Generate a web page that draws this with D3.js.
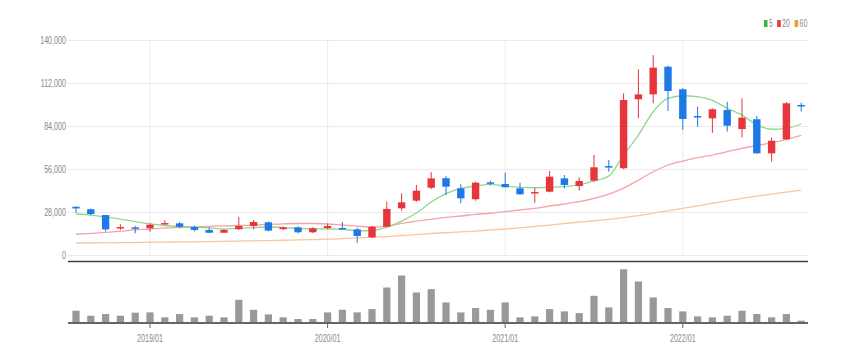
<!DOCTYPE html>
<html>
<head>
<meta charset="utf-8">
<script src="https://cdn.jsdelivr.net/npm/d3@7"></script>
<style>
  body { margin: 0; background: #fff; }
  text { font-family: "Liberation Sans", Arial, sans-serif; fill: #888; }
</style>
</head>
<body>
<div id="chart"></div>
<script>
const width = 850;
const height = 364;

// monthly candles, 2018/08 .. 2022/09
const months = d3.range(50).map(i => {
    const y = 2018 + Math.floor((7 + i) / 12);
    const m = (7 + i) % 12 + 1;
    return y + "/" + String(m).padStart(2, "0");
});

const open  = [31400,29800,26000,17400,18000,17400,20000,20600,18200,16300,14500,16800,18900,21300,16800,18000,14800,17600,17600,16700,11500,18400,30400,35400,43800,50000,43400,36300,47300,46200,43400,40400,41200,49900,44900,48400,57900,56500,101400,104600,122600,107900,90500,89000,94400,82000,88400,66200,75300,97700];
const high  = [31600,30200,26100,20000,18900,20600,22600,21500,19100,18000,16900,24900,22800,21700,18600,18600,18000,20600,21500,17800,19000,34700,40200,45600,53900,51400,46000,47800,48400,53600,47100,43800,54700,52100,50600,65100,61900,105300,120900,130200,123300,108600,96600,95500,99800,102000,90500,76600,99600,99200];
const low   = [27500,25900,15400,16300,14100,15200,19900,17400,15400,14100,14500,16300,16700,15400,16400,14100,14200,16700,16700,8000,11000,18000,28800,34700,42800,39000,33700,35300,45400,44000,39300,34000,40800,43400,41900,47700,54200,56000,89000,98800,93800,81400,83500,79500,80300,76600,66000,60800,74900,93300];
const close = [30300,26700,16700,18200,17200,19700,20800,18400,16300,14500,16300,18900,21500,15900,18000,14800,17400,18900,16800,12400,18400,30000,34300,41900,49900,44500,36900,47100,46400,44100,39500,41000,51000,45600,48200,57100,57100,100900,104600,122000,106800,88600,89900,94900,84200,89400,66200,74400,98800,96800];
const volume = [370000,220000,270000,220000,310000,320000,170000,270000,170000,220000,170000,700000,400000,260000,170000,120000,120000,320000,400000,320000,420000,1070000,1430000,920000,1020000,620000,320000,450000,400000,620000,170000,200000,420000,350000,300000,820000,470000,1620000,1250000,770000,450000,350000,200000,170000,220000,370000,270000,170000,270000,70000];

const ma5  = [26700,26000,24700,23400,21800,20200,19200,18600,18200,17600,16900,17300,17800,18400,17800,17400,16900,17100,16700,15800,15800,18200,22100,27300,34500,40000,43400,44900,46000,44900,44100,43800,44100,44500,45600,48200,51400,65100,78100,93300,102000,103700,103100,100700,95500,91200,84700,81900,82500,85300];
const ma20 = [13500,14100,14700,15500,16300,16900,17600,17900,18200,18600,18900,19200,19500,20000,20300,20500,20500,20200,19500,18800,18200,18800,20600,22100,23200,24500,25400,26500,27200,28200,29300,30400,31900,33200,34700,36900,39700,43600,48800,54200,58600,61200,63400,65100,67300,69500,71200,73100,75300,77900];
const ma60 = [7800,7800,7900,8000,8100,8300,8400,8500,8600,8700,8900,9100,9200,9400,9600,9800,10000,10300,10600,11100,11600,12000,12700,13300,14000,14500,15000,15600,16300,16900,17600,18600,19500,20500,21500,22300,23200,24300,25700,27200,28800,30400,32000,33700,35300,36900,38300,39700,41000,42300];

const priceTicks = [0, 28000, 56000, 84000, 112000, 140000];
const yearTicks = ["2019/01", "2020/01", "2021/01", "2022/01"];

const legendItems = [
    { label: "5",  color: "#2fb83a" },
    { label: "20", color: "#e8343b" },
    { label: "60", color: "#f39a2c" }
];

const upColor = "#e8343b";
const downColor = "#1e78e6";
const squash = 0.68;

const svg = d3.select("#chart")
    .append("svg")
    .attr("width", width)
    .attr("height", height);

const x = d3.scaleBand()
    .domain(months)
    .range([68.6, 808.6]);

const y = d3.scaleLinear()
    .domain([0, 140000])
    .range([255, 40]);

const yVol = d3.scaleLinear()
    .domain([0, 1700000])
    .range([323, 266.6]);

const cx = d => x(d) + x.bandwidth() / 2;

// horizontal gridlines + labels
const yAxis = svg.append("g")
    .attr("transform", "translate(68,0)")
    .call(d3.axisLeft(y).tickValues(priceTicks).tickFormat(d3.format(",")).tickSize(-740).tickPadding(3));
yAxis.select(".domain").remove();
yAxis.selectAll("line").attr("stroke", "#ebebeb");
yAxis.selectAll("text")
    .attr("font-size", 10.5)
    .attr("fill", "#888")
    .attr("transform", `scale(${squash},1)`);

// vertical gridlines
svg.append("g")
    .selectAll("line")
    .data(yearTicks)
    .enter().append("line")
    .attr("x1", d => cx(d)).attr("x2", d => cx(d))
    .attr("y1", 40).attr("y2", 255)
    .attr("stroke", "#ebebeb");

// price panel bottom line
svg.append("line")
    .attr("x1", 68).attr("x2", 808)
    .attr("y1", 261.5).attr("y2", 261.5)
    .attr("stroke", "#444").attr("stroke-width", 1.5);

// moving averages
const maLine = d3.line()
    .x((d, i) => cx(months[i]))
    .y(d => y(d))
    .curve(d3.curveMonotoneX);

[[ma60, "#f9c89a"], [ma20, "#f5a3a6"], [ma5, "#8fd98c"]].forEach(([vals, col]) => {
    svg.append("path")
        .datum(vals)
        .attr("fill", "none")
        .attr("stroke", col)
        .attr("stroke-width", 1.3)
        .attr("d", maLine);
});

// candles
const candles = months.map((m, i) => ({ m, o: open[i], h: high[i], l: low[i], c: close[i] }));
const candle = svg.append("g")
    .selectAll("g")
    .data(candles)
    .enter().append("g");

candle.append("line")
    .attr("x1", d => cx(d.m)).attr("x2", d => cx(d.m))
    .attr("y1", d => y(d.h)).attr("y2", d => y(d.l))
    .attr("stroke", d => d.c >= d.o ? upColor : downColor)
    .attr("stroke-width", 1);

candle.append("rect")
    .attr("x", d => cx(d.m) - 3.7)
    .attr("width", 7.4)
    .attr("y", d => y(Math.max(d.o, d.c)))
    .attr("height", d => Math.max(1.5, Math.abs(y(d.o) - y(d.c))))
    .attr("fill", d => d.c >= d.o ? upColor : downColor);

// volume bars
svg.append("g")
    .selectAll("rect")
    .data(volume)
    .enter().append("rect")
    .attr("x", (d, i) => cx(months[i]) - 3.6)
    .attr("width", 7.2)
    .attr("y", d => yVol(d))
    .attr("height", d => yVol(0) - yVol(d))
    .attr("fill", "#999");

// volume axis
const xAxis = svg.append("g")
    .attr("transform", "translate(0,323)")
    .call(d3.axisBottom(x).tickValues(yearTicks).tickSize(5).tickPadding(7).tickSizeOuter(0));
xAxis.select(".domain")
    .attr("d", "M68,0H808")
    .attr("stroke", "#666").attr("stroke-width", 2);
xAxis.selectAll("line").attr("stroke", "#666");
xAxis.selectAll("text")
    .attr("font-size", 10.5)
    .attr("fill", "#888")
    .attr("transform", `scale(${squash},1)`);

// legend
const legend = svg.append("g")
    .attr("transform", "translate(764,24)");
let lx = 0;
legendItems.forEach(item => {
    legend.append("rect")
        .attr("x", lx).attr("y", -4)
        .attr("width", 3.5).attr("height", 7)
        .attr("fill", item.color);
    legend.append("text")
        .attr("x", (lx + 5) / squash).attr("y", 3)
        .attr("font-size", 10)
        .attr("fill", "#888")
        .attr("transform", `scale(${squash},1)`)
        .text(item.label);
    lx += 5 + item.label.length * 4.2 + 4;
});
</script>
</body>
</html>
